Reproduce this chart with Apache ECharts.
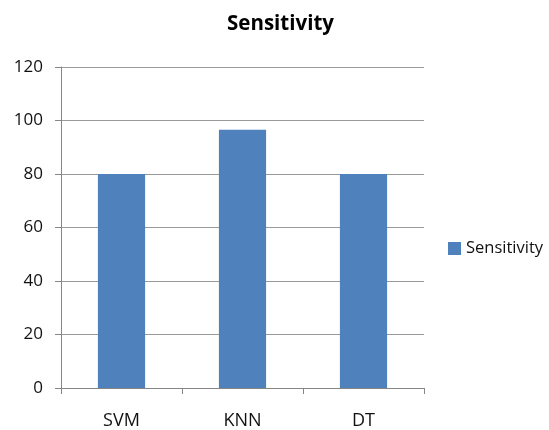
<!DOCTYPE html>
<html><head><meta charset="utf-8">
<script src="https://cdn.jsdelivr.net/npm/echarts@6/dist/echarts.min.js"></script>
<style>html,body{margin:0;padding:0;background:#fff}#c{width:549px;height:430px}</style>
</head><body><div id="c"></div>
<script>
const categories = ['SVM', 'KNN', 'DT'];
const sensitivity = [80, 96.5, 80];
const seriesName = 'Sensitivity';
const chart = echarts.init(document.getElementById('c'), null, {renderer: 'canvas'});
const font = '"Open Sans", "Noto Sans", sans-serif';
chart.setOption({
  animation: false,
  backgroundColor: '#fff',
  title: {text: 'Sensitivity', left: 222, top: 9,
    textStyle: {fontFamily: font, fontWeight: 'bold', fontSize: 20.5, color: '#000'}},
  legend: {left: 443, top: 235, orient: 'vertical', itemWidth: 13, itemHeight: 13, itemGap: 4,
    icon: 'rect', itemStyle: {borderWidth: 0},
    textStyle: {fontFamily: font, fontSize: 16.5, color: '#111'}, data: [seriesName]},
  grid: {left: 61, right: 125, top: 67, bottom: 42},
  xAxis: {type: 'category', data: categories,
    axisLine: {lineStyle: {color: '#868686'}},
    axisTick: {show: true, length: 6, lineStyle: {color: '#868686'}},
    axisLabel: {fontFamily: font, fontSize: 18, color: '#111', margin: 24}},
  yAxis: {type: 'value', min: 0, max: 120, interval: 20,
    axisLine: {show: true, lineStyle: {color: '#868686'}},
    axisTick: {show: true, length: 6, lineStyle: {color: '#868686'}},
    splitLine: {lineStyle: {color: '#9a9a9a'}},
    axisLabel: {fontFamily: font, fontSize: 17, color: '#111', margin: 18}},
  series: [{name: seriesName, type: 'bar', data: sensitivity, barWidth: '39%',
    itemStyle: {color: '#4f81bd'}}]
});
</script></body></html>
